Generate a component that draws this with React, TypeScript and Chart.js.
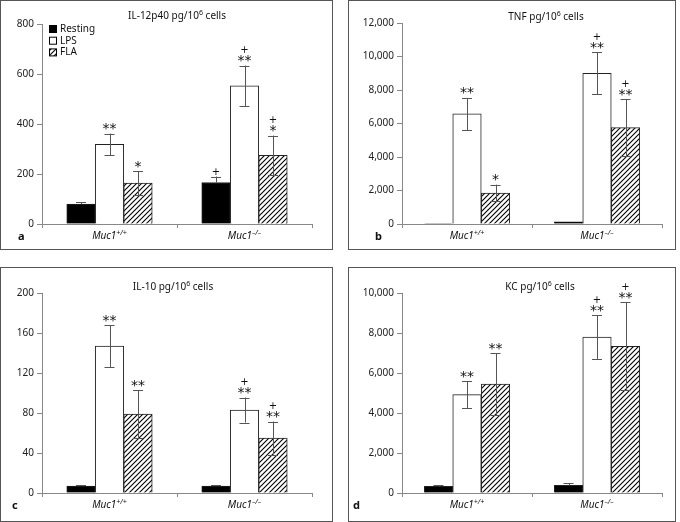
import React, { useEffect, useRef } from 'react';
import { Chart, registerables } from 'chart.js';
Chart.register(...registerables);

const FONT = '"Noto Sans", "DejaVu Sans", sans-serif';

// categories
const groups = ['Muc1+/+', 'Muc1–/–'];
const groupBase = ['Muc1', 'Muc1'];
const groupSup = ['+/+', '–/–'];
const seriesNames = ['Resting', 'LPS', 'FLA'];

// panel a: IL-12p40
const il12Resting = [80, 166];
const il12LPS = [319, 553];
const il12FLA = [164, 275];
const il12RestingErr = [8, 24];
const il12LPSErr = [43, 81];
const il12FLAErr = [48, 79];
const il12Marks = [['', '+'], ['**', '+**'], ['*', '+*']];
const il12Ticks = [0, 200, 400, 600, 800];

// panel b: TNF
const tnfResting = [30, 130];
const tnfLPS = [6570, 9000];
const tnfFLA = [1850, 5750];
const tnfRestingErr = [0, 0];
const tnfLPSErr = [960, 1260];
const tnfFLAErr = [500, 1700];
const tnfMarks = [['', ''], ['**', '+**'], ['*', '+**']];
const tnfTicks = [0, 2000, 4000, 6000, 8000, 10000, 12000];

// panel c: IL-10
const il10Resting = [7, 7];
const il10LPS = [147, 83];
const il10FLA = [79, 55];
const il10RestingErr = [1, 0.8];
const il10LPSErr = [21, 12.5];
const il10FLAErr = [24, 16.5];
const il10Marks = [['', ''], ['**', '+**'], ['**', '+**']];
const il10Ticks = [0, 40, 80, 120, 160, 200];

// panel d: KC
const kcResting = [330, 380];
const kcLPS = [4920, 7800];
const kcFLA = [5450, 7330];
const kcRestingErr = [70, 120];
const kcLPSErr = [680, 1100];
const kcFLAErr = [1550, 2200];
const kcMarks = [['', ''], ['**', '+**'], ['**', '+**']];
const kcTicks = [0, 2000, 4000, 6000, 8000, 10000];

type Spec = {
  left: number; top: number; w: number; h: number;
  area: { l: number; r: number; t: number; b: number };
  title: string[]; titleX: number; titleY: number;
  letter: string; letterX: number;
  values: number[][]; errors: number[][]; marks: string[][];
  ticks: number[]; comma: boolean; legend: boolean;
};

const specs: Spec[] = [
  {
    left: 0, top: 0, w: 333, h: 250, area: { l: 42, r: 312, t: 24, b: 224 },
    title: ['IL-12p40 pg/10', '6', ' cells'], titleX: 177, titleY: 16,
    letter: 'a', letterX: 18,
    values: [il12Resting, il12LPS, il12FLA], errors: [il12RestingErr, il12LPSErr, il12FLAErr],
    marks: il12Marks, ticks: il12Ticks, comma: false, legend: true,
  },
  {
    left: 348, top: 0, w: 328, h: 250, area: { l: 54, r: 314, t: 23, b: 224 },
    title: ['TNF pg/10', '6', ' cells'], titleX: 198, titleY: 17,
    letter: 'b', letterX: 27,
    values: [tnfResting, tnfLPS, tnfFLA], errors: [tnfRestingErr, tnfLPSErr, tnfFLAErr],
    marks: tnfMarks, ticks: tnfTicks, comma: true, legend: false,
  },
  {
    left: 0, top: 267, w: 333, h: 255, area: { l: 42, r: 312, t: 26, b: 226 },
    title: ['IL-10 pg/10', '6', ' cells'], titleX: 173, titleY: 20,
    letter: 'c', letterX: 12,
    values: [il10Resting, il10LPS, il10FLA], errors: [il10RestingErr, il10LPSErr, il10FLAErr],
    marks: il10Marks, ticks: il10Ticks, comma: false, legend: false,
  },
  {
    left: 348, top: 267, w: 328, h: 255, area: { l: 54, r: 314, t: 26, b: 226 },
    title: ['KC pg/10', '6', ' cells'], titleX: 192, titleY: 20,
    letter: 'd', letterX: 5,
    values: [kcResting, kcLPS, kcFLA], errors: [kcRestingErr, kcLPSErr, kcFLAErr],
    marks: kcMarks, ticks: kcTicks, comma: true, legend: false,
  },
];

function makeHatch(ctx: CanvasRenderingContext2D) {
  const c = document.createElement('canvas');
  c.width = 5; c.height = 5;
  const g = c.getContext('2d')!;
  g.fillStyle = '#fff';
  g.fillRect(0, 0, 5, 5);
  g.strokeStyle = '#000';
  g.lineWidth = 1.1;
  g.beginPath();
  g.moveTo(-1, 6); g.lineTo(6, -1);
  g.moveTo(-1, 1); g.lineTo(1, -1);
  g.moveTo(4, 6); g.lineTo(6, 4);
  g.stroke();
  return ctx.createPattern(c, 'repeat')!;
}

function drawRich(ctx: CanvasRenderingContext2D, base: string, sup: string, rest: string,
  cx: number, cy: number, size: number, style: string) {
  const pre = style ? style + ' ' : '';
  const f1 = `${pre}${size}px ${FONT}`;
  const f2 = `${pre}${Math.round(size * 0.7)}px ${FONT}`;
  ctx.font = f1; const w1 = ctx.measureText(base).width; const w3 = ctx.measureText(rest).width;
  ctx.font = f2; const w2 = ctx.measureText(sup).width;
  let x = cx - (w1 + w2 + w3) / 2;
  ctx.textAlign = 'left';
  ctx.textBaseline = 'middle';
  ctx.font = f1; ctx.fillText(base, x, cy); x += w1;
  ctx.font = f2; ctx.fillText(sup, x, cy - size * 0.35); x += w2;
  ctx.font = f1; ctx.fillText(rest, x, cy);
}

function Panel({ spec }: { spec: Spec }) {
  const ref = useRef<HTMLCanvasElement>(null);
  useEffect(() => {
    const canvas = ref.current!;
    const ctx = canvas.getContext('2d')!;
    const hatch = makeHatch(ctx);
    const fills: any[] = ['#000', '#fff', hatch];
    const { area, w, h } = spec;

    const deco = {
      id: 'deco',
      afterDatasetsDraw(chart: any) {
        const c = chart.ctx as CanvasRenderingContext2D;
        const ys = chart.scales.y;
        c.save();
        chart.data.datasets.forEach((ds: any, di: number) => {
          const meta = chart.getDatasetMeta(di);
          meta.data.forEach((bar: any, i: number) => {
            const v = ds.data[i];
            const e = spec.errors[di][i];
            const x = bar.x;
            const yHi = ys.getPixelForValue(v + e);
            const yLo = ys.getPixelForValue(v - e);
            const yTop = ys.getPixelForValue(v);
            if (e > 0) {
              c.strokeStyle = '#555';
              c.lineWidth = 1;
              c.beginPath();
              const lowEnd = di === 0 ? yTop : yLo;
              c.moveTo(Math.round(x) + 0.5, yHi);
              c.lineTo(Math.round(x) + 0.5, lowEnd);
              c.moveTo(x - 5, Math.round(yHi) + 0.5);
              c.lineTo(x + 5, Math.round(yHi) + 0.5);
              if (di !== 0) {
                c.moveTo(x - 5, Math.round(yLo) + 0.5);
                c.lineTo(x + 5, Math.round(yLo) + 0.5);
              }
              c.stroke();
            }
            const m = spec.marks[di][i];
            const top = e > 0 ? yHi : yTop;
            const hasPlus = m.startsWith('+');
            const stars = m.replace('+', '');
            c.fillStyle = '#111';
            c.textAlign = 'center';
            c.textBaseline = 'alphabetic';
            if (stars) {
              c.font = `14px "DejaVu Sans", sans-serif`;
              c.fillText(stars, x, top - 0.5);
            }
            if (hasPlus) {
              c.font = `10px "DejaVu Sans", sans-serif`;
              const pc = stars ? top - 16 : top - 5;
              c.fillText('+', x, pc + 3.5);
            }
          });
        });
        c.restore();
      },
      afterDraw(chart: any) {
        const c = chart.ctx as CanvasRenderingContext2D;
        const xs = chart.scales.x;
        const ca = chart.chartArea;
        c.save();
        // panel border
        c.strokeStyle = '#555';
        c.lineWidth = 1;
        c.strokeRect(0.5, 0.5, w - 1, h - 1);
        c.fillStyle = '#111';
        // title
        drawRich(c, spec.title[0], spec.title[1], spec.title[2], spec.titleX, spec.titleY, 10, '');
        // x labels
        groups.forEach((_, i) => {
          const px = xs.getPixelForValue(i);
          drawRich(c, groupBase[i], groupSup[i], '', px, ca.bottom + 12.5, 10, 'italic');
        });
        // panel letter
        c.font = `bold 11px ${FONT}`;
        c.textAlign = 'left';
        c.textBaseline = 'alphabetic';
        c.fillText(spec.letter, spec.letterX, ca.bottom + 15.5);
        // legend
        if (spec.legend) {
          seriesNames.forEach((name, k) => {
            const cy = 29 + k * 11.7;
            const sx = 49.5;
            c.fillStyle = fills[k];
            c.fillRect(sx, cy - 3.5, 7, 7);
            c.strokeStyle = '#000';
            c.strokeRect(sx, cy - 3.5, 7, 7);
            c.fillStyle = '#111';
            c.font = `10px ${FONT}`;
            c.textAlign = 'left';
            c.textBaseline = 'middle';
            c.fillText(name, 60, cy);
          });
        }
        c.restore();
      },
    };

    const chart = new Chart(canvas, {
      type: 'bar',
      data: {
        labels: groups,
        datasets: spec.values.map((vals, k) => ({
          label: seriesNames[k],
          data: vals,
          backgroundColor: fills[k],
          borderColor: '#222',
          borderWidth: 1,
          barThickness: 28.5,
        })),
      },
      options: {
        responsive: false,
        animation: false,
        devicePixelRatio: 1,
        layout: { padding: { top: area.t, right: w - area.r, left: 0, bottom: 0 } },
        plugins: { legend: { display: false }, tooltip: { enabled: false }, title: { display: false } },
        scales: {
          x: {
            offset: true,
            grid: { offset: true, drawOnChartArea: false, color: '#888', tickLength: 4 },
            border: { color: '#888' },
            ticks: { callback: () => '' },
            afterFit: (s: any) => { s.height = h - area.b; },
          },
          y: {
            min: spec.ticks[0],
            max: spec.ticks[spec.ticks.length - 1],
            afterBuildTicks: (s: any) => { s.ticks = spec.ticks.map((v) => ({ value: v })); },
            grid: { drawOnChartArea: false, color: '#888', tickLength: 5 },
            border: { color: '#888' },
            ticks: {
              font: { family: FONT, size: 10 },
              color: '#222',
              padding: 3,
              callback: (v: any) => (spec.comma ? Number(v).toLocaleString('en-US') : String(v)),
            },
            afterFit: (s: any) => { s.width = area.l; },
          },
        },
      } as any,
      plugins: [deco],
    });
    return () => chart.destroy();
  }, [spec]);
  return (
    <canvas
      ref={ref}
      width={spec.w}
      height={spec.h}
      style={{ position: 'absolute', left: spec.left, top: spec.top, width: spec.w, height: spec.h }}
    />
  );
}

export default function App() {
  return (
    <div style={{ position: 'fixed', left: 0, top: 0, width: 680, height: 522, background: '#fff' }}>
      {specs.map((s, i) => <Panel key={i} spec={s} />)}
    </div>
  );
}
